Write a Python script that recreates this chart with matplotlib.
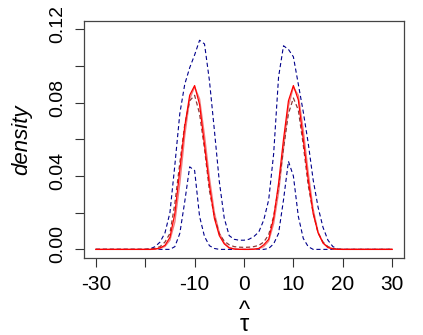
import matplotlib
matplotlib.use('Agg')
import matplotlib.pyplot as plt
from matplotlib.transforms import ScaledTranslation
import numpy as np

plt.rcParams.update({
    'font.family': 'Liberation Sans', 'font.size': 15,
    'lines.scale_dashes': False,
})

# grid of tau-hat values (density is 0 outside [-20, 20])
tau = np.array([-30] + list(range(-20, 21)) + [30])

# curves, values at tau
upper = [0, 0, 0.0003, 0.0015, 0.004, 0.009, 0.020, 0.046, 0.074, 0.090, 0.099,
         0.106, 0.114, 0.112, 0.092, 0.065, 0.037, 0.017, 0.0075, 0.0055, 0.005,
         0.005, 0.0055, 0.007, 0.0095, 0.016, 0.027, 0.052, 0.094, 0.111, 0.109,
         0.105, 0.090, 0.075, 0.058, 0.038, 0.023, 0.012, 0.005, 0.0015, 0.0003,
         0, 0]
lower = [0, 0, 0, 0, 0, 0, 0, 0.0015, 0.0087, 0.026, 0.045, 0.043, 0.018, 0.007,
         0.002, 0.0005, 0, 0, 0, 0, 0, 0, 0, 0, 0, 0, 0.0005, 0.003, 0.0087, 0.027,
         0.048, 0.040, 0.018, 0.006, 0.0015, 0, 0, 0, 0, 0, 0, 0, 0]
mean_est = [0, 0, 0.0002, 0.0006, 0.0015, 0.004, 0.0087, 0.025, 0.047, 0.068,
            0.081, 0.084, 0.074, 0.055, 0.032, 0.018, 0.0085, 0.0045, 0.0025,
            0.0015, 0.0012, 0.0011, 0.0012, 0.0015, 0.0022, 0.004, 0.008, 0.018,
            0.034, 0.055, 0.074, 0.0825, 0.076, 0.057, 0.035, 0.020, 0.009, 0.004,
            0.0015, 0.0005, 0.0001, 0, 0]
est = [0, 0, 0, 0.0002, 0.0008, 0.0022, 0.0065, 0.0196, 0.043, 0.067, 0.084,
       0.0893, 0.079, 0.057, 0.035, 0.017, 0.0075, 0.003, 0.0008, 0.0002, 0, 0,
       0, 0.0001, 0.0005, 0.0025, 0.0055, 0.017, 0.036, 0.060, 0.081, 0.0893,
       0.0815, 0.060, 0.038, 0.0196, 0.009, 0.0035, 0.001, 0.0003, 0, 0, 0]
true_dens = [0, 0, 0, 0.0001, 0.0005, 0.0016, 0.005, 0.015, 0.036, 0.062, 0.082,
             0.0885, 0.082, 0.062, 0.039, 0.020, 0.009, 0.0035, 0.001, 0.0003,
             0.0001, 0, 0, 0.0001, 0.0004, 0.0015, 0.0045, 0.014, 0.031, 0.055,
             0.078, 0.0885, 0.084, 0.065, 0.042, 0.022, 0.0095, 0.0035, 0.0011,
             0.0003, 0.0001, 0, 0]

xticks = [-30, -20, -10, 0, 10, 20, 30]
xticklabels = ['-30', '', '-10', '0', '10', '20', '30']
yticks = [0, 0.02, 0.04, 0.06, 0.08, 0.10, 0.12]
yticklabels = ['0.00', '', '0.04', '', '0.08', '', '0.12']

fig = plt.figure(figsize=(4.23, 3.35), dpi=100)
ax = fig.add_axes([84 / 423, 77 / 335, 320 / 423, 237 / 335])

dash = (3, 2)
ax.plot(tau, upper, color='#00008B', lw=0.8, dashes=dash)
ax.plot(tau, lower, color='#00008B', lw=0.8, dashes=dash)
ax.plot(tau, true_dens, color='#F08080', lw=1.0)
ax.plot(tau, mean_est, color='#8B3A3A', lw=0.9, dashes=dash)
ax.plot(tau, est, color='red', lw=0.9)

ax.set_xlim(-32.4, 32.4)
ax.set_ylim(-0.0047, 0.1245)
ax.set_xticks(xticks)
ax.set_xticklabels(xticklabels)
ax.set_yticks(yticks)
ax.set_yticklabels(yticklabels, rotation=90, va='center', fontsize=14)
ax.tick_params(length=6.5, width=0.8, pad=6, color='#333333')
# R draws the rotated labels a little above the tick
shift = ScaledTranslation(0, 5 / 100, fig.dpi_scale_trans)
for lab in ax.get_yticklabels():
    lab.set_transform(lab.get_transform() + shift)
for s in ax.spines.values():
    s.set_color('#444444')
    s.set_linewidth(0.9)

fig.text(22 / 423, 1 - 140 / 335, 'density', rotation=90, style='italic',
         fontsize=16, ha='center', va='center')
fig.text(244 / 423, 1 - 318 / 335, '^\n\u03c4', fontsize=17, linespacing=0.5,
         ha='center', va='center', multialignment='center')

fig.savefig('out.png', dpi=100, facecolor='white')
